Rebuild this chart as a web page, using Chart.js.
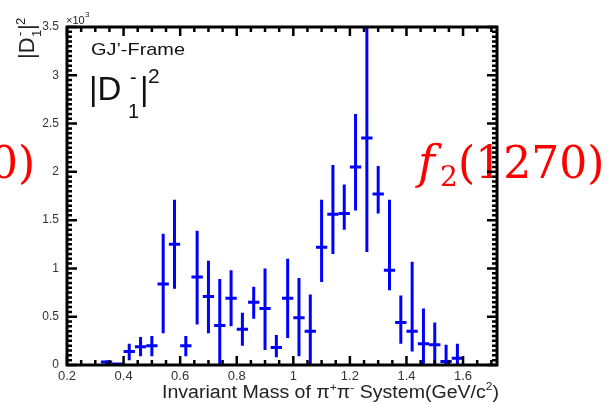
<!DOCTYPE html>
<html><head><meta charset="utf-8">
<script src="https://cdn.jsdelivr.net/npm/chart.js@4/dist/chart.umd.min.js"></script>
<style>html,body{margin:0;padding:0;background:#fff;}canvas{display:block;}</style>
</head><body>
<canvas id="c" width="608" height="404"></canvas>
<script>
// ---- data (×10^3) ----
const binCenters = [0.34,0.38,0.42,0.46,0.50,0.54,0.58,0.62,0.66,0.70,0.74,0.78,0.82,0.86,0.90,0.94,0.98,1.02,1.06,1.10,1.14,1.18,1.22,1.26,1.30,1.34,1.38,1.42,1.46,1.50,1.54,1.58];
const values     = [0.03,0.01,0.14,0.19,0.20,0.84,1.25,0.20,0.91,0.71,0.41,0.69,0.37,0.65,0.585,0.18,0.69,0.49,0.35,1.22,1.56,1.57,2.05,2.35,1.77,0.98,0.44,0.35,0.22,0.21,0.035,0.07];
const errLow     = [0.01,0.00,0.05,0.09,0.09,0.33,0.79,0.09,0.42,0.33,-0.1,0.40,0.20,0.48,0.155,0.08,0.28,0.09,-0.1,0.86,1.15,1.40,1.60,1.17,1.57,0.775,0.22,0.14,-0.1,-0.1,-0.1,-0.1];
const errHigh    = [0.05,0.02,0.22,0.29,0.30,1.36,1.71,0.30,1.39,1.08,0.89,0.98,0.54,0.81,1.00,0.31,1.10,0.90,0.73,1.71,2.07,1.87,2.60,3.70,2.06,1.71,0.72,1.07,0.585,0.44,0.21,0.22];
const binHalfWidth = 0.02;

const xTicks = [0.2,0.4,0.6,0.8,1.0,1.2,1.4,1.6];
const xTickLabels = ['0.2','0.4','0.6','0.8','1','1.2','1.4','1.6'];
const yTicks = [0,0.5,1,1.5,2,2.5,3,3.5];
const yTickLabels = ['0','0.5','1','1.5','2','2.5','3','3.5'];
const xRange = [0.2, 1.72];
const yRange = [0, 3.5];
const minorStep = 0.05;

const SANS = '"Liberation Sans", Arial, Helvetica, sans-serif';
const SERIF = '"DejaVu Serif", "Liberation Serif", serif';

function drawPieces(ctx, pieces){
  pieces.forEach(p=>{ ctx.font = p.f; ctx.fillText(p.t, p.x, p.y); });
}
// draw a run of text pieces, stretched horizontally so that it spans `width`
function drawRun(ctx, parts, size, xStart, xEnd, base){
  let w = 0;
  parts.forEach(p => { ctx.font = (p.s || size) + 'px ' + SANS; p.w = ctx.measureText(p.t).width; w += p.w; });
  const sx = (xEnd - xStart) / w;
  ctx.save();
  ctx.translate(xStart, base);
  ctx.scale(sx, 1);
  let cx = 0;
  parts.forEach(p => { ctx.font = (p.s || size) + 'px ' + SANS; ctx.fillText(p.t, cx, p.dy || 0); cx += p.w; });
  ctx.restore();
}

const decor = {
  id: 'decor',
  afterDatasetsDraw(chart){
    const {ctx, chartArea:a, scales:{x, y}} = chart;
    // error bars
    ctx.save();
    ctx.beginPath(); ctx.rect(a.left, a.top, a.right-a.left, a.bottom-a.top); ctx.clip();
    ctx.strokeStyle = '#0000ff'; ctx.lineWidth = 3; ctx.lineCap = 'butt';
    binCenters.forEach((c, i) => {
      const px = x.getPixelForValue(c);
      const py = y.getPixelForValue(values[i]);
      ctx.beginPath();
      ctx.moveTo(px, y.getPixelForValue(errLow[i]));
      ctx.lineTo(px, y.getPixelForValue(errHigh[i]));
      ctx.moveTo(x.getPixelForValue(c - binHalfWidth), py);
      ctx.lineTo(x.getPixelForValue(c + binHalfWidth), py);
      ctx.stroke();
    });
    ctx.restore();

    // red annotations
    ctx.save();
    ctx.fillStyle = '#ff0000';
    ctx.textBaseline = 'alphabetic';
    drawPieces(ctx, [
      {t:'f', f:'italic 46px ' + SERIF, x:418, y:178},
      {t:'2', f:'28px ' + SERIF, x:440, y:186},
      {t:'(1270)', f:'44px ' + SERIF, x:458, y:178},
      {t:'0)', f:'44px ' + SERIF, x:-10, y:178}
    ]);
    ctx.restore();

    // frame & ticks
    ctx.save();
    ctx.strokeStyle = '#000'; ctx.lineWidth = 3;
    ctx.strokeRect(a.left, a.top, a.right-a.left, a.bottom-a.top);
    ctx.lineWidth = 2.5;
    ctx.beginPath();
    const nx = Math.round((xRange[1]-xRange[0])/minorStep);
    for (let k=0;k<=nx;k++){
      const v = xRange[0] + k*minorStep;
      const major = Math.abs(v/0.2 - Math.round(v/0.2)) < 1e-6;
      const L = major ? 9 : 5;
      const px = x.getPixelForValue(v);
      ctx.moveTo(px, a.bottom); ctx.lineTo(px, a.bottom - L);
      ctx.moveTo(px, a.top); ctx.lineTo(px, a.top + L);
    }
    const ny = Math.round((yRange[1]-yRange[0])/minorStep);
    for (let k=0;k<=ny;k++){
      const v = yRange[0] + k*minorStep;
      const major = Math.abs(v/0.5 - Math.round(v/0.5)) < 1e-6;
      const L = major ? 10 : 5;
      const py = y.getPixelForValue(v);
      ctx.moveTo(a.left, py); ctx.lineTo(a.left + L, py);
      ctx.moveTo(a.right, py); ctx.lineTo(a.right - L, py);
    }
    ctx.stroke();
    ctx.restore();

    // texts
    ctx.save();
    ctx.fillStyle = '#222';
    ctx.textBaseline = 'alphabetic';
    // exponent
    drawPieces(ctx, [
      {t:'×10', f:'11px ' + SANS, x:66, y:24},
      {t:'3', f:'8px ' + SANS, x:85, y:17}
    ]);
    // frame label
    ctx.fillStyle = '#111';
    drawRun(ctx, [{t:'GJ’-Frame'}], 17, 91, 185, 55);
    drawPieces(ctx, [
      {t:'|D', f:'33px ' + SANS, x:89, y:100},
      {t:'1', f:'20px ' + SANS, x:128, y:118},
      {t:'-', f:'20px ' + SANS, x:130, y:84},
      {t:'|', f:'33px ' + SANS, x:140, y:100},
      {t:'2', f:'21px ' + SANS, x:148, y:83}
    ]);
    // x axis title, right aligned to the axis end
    ctx.fillStyle = '#222';
    drawRun(ctx, [
      {t:'Invariant Mass of π'},
      {t:'+', s:11, dy:-7},
      {t:'π'},
      {t:'-', s:11, dy:-7},
      {t:' System(GeV/c'},
      {t:'2', s:11, dy:-8},
      {t:')'}
    ], 18, 162, 499, 398);
    // y axis title (rotated)
    ctx.translate(34, 59);
    ctx.rotate(-Math.PI/2);
    drawPieces(ctx, [
      {t:'|D', f:'22px ' + SANS, x:0, y:0},
      {t:'1', f:'13px ' + SANS, x:22, y:7},
      {t:'-', f:'13px ' + SANS, x:23, y:-10},
      {t:'|', f:'22px ' + SANS, x:29, y:0},
      {t:'2', f:'13px ' + SANS, x:34, y:-9}
    ]);
    ctx.restore();
  }
};

new Chart(document.getElementById('c'), {
  type: 'scatter',
  data: {
    datasets: [{
      data: binCenters.map((c, i) => ({x: c, y: values[i]})),
      pointRadius: 0,
      showLine: false,
      borderColor: '#0000ff',
      backgroundColor: '#0000ff'
    }]
  },
  options: {
    responsive: false,
    animation: false,
    devicePixelRatio: 1,
    layout: { padding: { left: 0, right: 111, top: 27, bottom: 0 } },
    plugins: { legend: { display: false }, tooltip: { enabled: false } },
    scales: {
      x: {
        type: 'linear', position: 'bottom',
        min: xRange[0], max: xRange[1],
        grid: { display: false, drawTicks: false, tickLength: 0 },
        border: { display: false },
        afterBuildTicks: s => { s.ticks = xTicks.map(v => ({value: v})); },
        afterFit: s => { s.height = 39; },
        ticks: {
          autoSkip: false, maxRotation: 0, padding: 4,
          color: '#333', font: { family: SANS, size: 13 },
          callback: (v, i) => xTickLabels[i]
        }
      },
      y: {
        type: 'linear', position: 'left',
        min: yRange[0], max: yRange[1],
        grid: { display: false, drawTicks: false, tickLength: 0 },
        border: { display: false },
        afterBuildTicks: s => { s.ticks = yTicks.map(v => ({value: v})); },
        afterFit: s => { s.width = 67; },
        ticks: {
          autoSkip: false, padding: 8,
          color: '#333', font: { family: SANS, size: 12 },
          callback: (v, i) => yTickLabels[i]
        }
      }
    }
  },
  plugins: [decor]
});
</script>
</body></html>
